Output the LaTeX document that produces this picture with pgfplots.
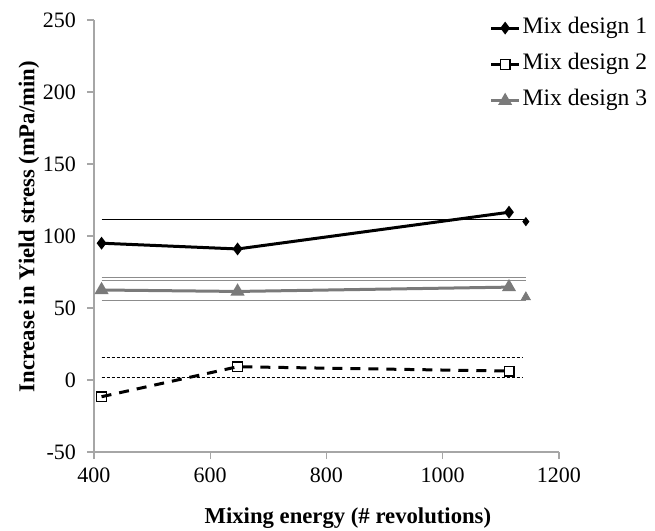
\documentclass[border=0pt]{standalone}
\usepackage{pgfplots}
\pgfplotsset{compat=1.18}
\usepackage{fontspec}
\setmainfont{Liberation Serif}
\definecolor{sgray}{HTML}{7A7A7A}
\definecolor{lgray}{HTML}{8C8C8C}
\definecolor{agray}{HTML}{A6A6A6}
\begin{document}
\begin{tikzpicture}
\begin{axis}[
  name=ax,
  scale only axis,
  width=232.5pt, height=216pt,
  xmin=400, xmax=1200, ymin=-50, ymax=250,
  xtick={400,600,...,1200}, ytick={-50,0,...,250},
  axis x line*=bottom, axis y line*=left,
  axis line style={agray, line width=0.6pt},
  tick align=outside, major tick length=3.5pt,
  tick style={agray, line width=0.6pt},
  /pgf/number format/assume math mode=true,
  /pgf/number format/1000 sep={},
  ticklabel style={font=\fontsize{11}{12}\selectfont},
  yticklabel style={xshift=-2pt},
  xticklabel style={yshift=-1pt},
  xlabel={\textbf{Mixing energy (\# revolutions)}},
  ylabel={\textbf{Increase in Yield stress (mPa/min)}},
  label style={font=\fontsize{11.35}{13}\selectfont},
  xlabel style={at={(rel axis cs:0.546,0)}, anchor=north, yshift=-24.5pt},
  ylabel style={at={(rel axis cs:-0.14,0.5215)}, anchor=center},
  legend style={draw=none, fill=none, at={(rel axis cs:0.85,1.01)}, anchor=north west,
    font=\fontsize{11.8}{13}\selectfont, inner sep=0pt, row sep=6.2pt,
    nodes={inner sep=1pt, text height=0.75em, text depth=0.25em}},
  legend cell align=left,
  legend image code/.code={\draw[mark repeat=2,mark phase=2,#1] plot coordinates {(0pt,0pt) (7pt,0pt) (14pt,0pt)};},
  clip=false,
]
% reference lines
\addplot[black, line width=0.5pt, forget plot] coordinates {(413,111.6) (1143,111.6)};
\addplot[lgray, line width=0.7pt, forget plot] coordinates {(413,71) (1143,71)};
\addplot[lgray, line width=0.7pt, forget plot] coordinates {(413,69.2) (1143,69.2)};
\addplot[lgray, line width=0.5pt, forget plot] coordinates {(413,55) (1143,55)};
\addplot[black, line width=0.5pt, dash pattern=on 1.5pt off 1pt, forget plot] coordinates {(413,15.7) (1138,15.7)};
\addplot[black, line width=0.5pt, dash pattern=on 1.5pt off 1pt, forget plot] coordinates {(413,1.9) (1138,1.9)};
% series
\addplot[black, line width=1.5pt, mark=diamond*, mark size=2pt, mark options={solid}] coordinates {(413,95) (647,91) (1114,116.5)};
\addlegendentry{Mix design 1}
\addplot[black, line width=1.5pt, dash pattern=on 5pt off 4pt, mark=square, mark size=2.4pt, mark options={solid, fill=white, line width=0.7pt}] coordinates {(413,-11.6) (647,9.2) (1114,6.2)};
\addlegendentry{Mix design 2}
\addplot[sgray, line width=1.5pt, mark=triangle*, mark size=2.6pt, mark options={solid}] coordinates {(413,62.5) (647,61.5) (1114,64.5)};
\addlegendentry{Mix design 3}
\addplot[only marks, black, mark=diamond*, mark size=2pt, forget plot] coordinates {(1143,110)};
\addplot[only marks, sgray, mark=triangle*, mark size=2.6pt, forget plot] coordinates {(1143,57.5)};
\end{axis}
\pgfresetboundingbox
\path (-47pt,-39.5pt) rectangle (280.5pt,226pt);
\end{tikzpicture}
\end{document}
